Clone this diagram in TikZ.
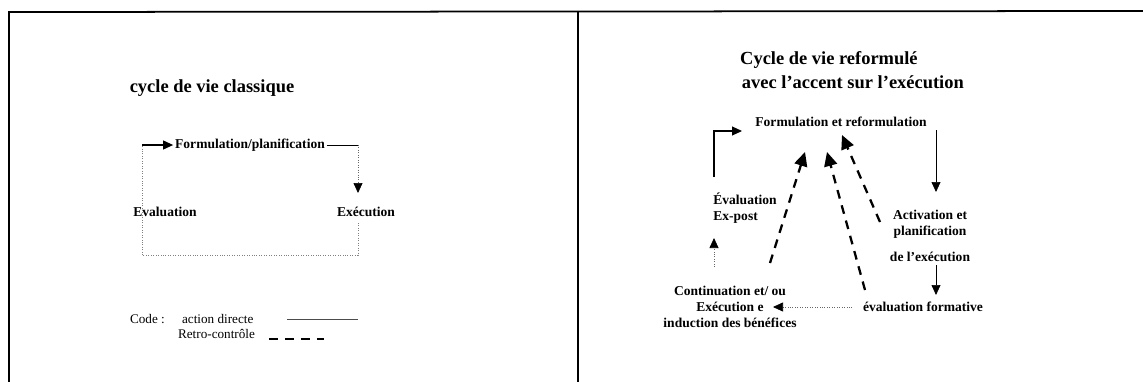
\documentclass[tikz,border=0pt]{standalone}
\usepackage{fontspec}
\setmainfont{Liberation Serif}
\usetikzlibrary{arrows.meta, positioning}

\begin{document}
\begin{tikzpicture}[
  x=0.02cm, y=-0.02cm,
  title/.style={font=\fontsize{10.5}{13.6}\selectfont\bfseries, inner sep=1pt},
  lbl/.style={font=\fontsize{7.7}{9.2}\selectfont\bfseries, inner sep=1pt},
  legend/.style={font=\fontsize{7.5}{9}\selectfont, inner sep=1pt},
  arrow/.style={-{Triangle[length=2mm, width=1.8mm]}, semithick},
  dotarrow/.style={-{Triangle[length=2mm, width=1.8mm, color=black]}, thin, densely dotted, black!60},
  retro/.style={-{Triangle[length=2.8mm, width=2.6mm]}, line width=1.3pt, dash pattern=on 5pt off 4pt},
  faint/.style={thin, densely dotted, black!50}
]
  \useasboundingbox (0,0) rectangle (1143,382);
  % frame
  \draw[line width=1pt] (9,382) -- (9,12) -- (1143,11);
  \draw[line width=1pt] (578,11) -- (578,382);

  % left panel: classic cycle
  \node[title] (ltitle) at (212,88) {cycle de vie classique};
  \node[lbl] (form) at (250,145) {Formulation/planification};
  \node[lbl] (eval) at (165,212) {Evaluation};
  \node[lbl] (exec) at (366,212) {Exécution};
  \coordinate (tl) at (142,145);
  \coordinate (bl) at (142,255);
  \coordinate (tr) at (358,145);
  \coordinate (ra) at (358,193);
  \coordinate (rb) at (358,223);

  \draw[faint] (bl) -- (tl);
  \draw[arrow] (tl) -- (form.west);
  \draw[thin] (form.east) -- (tr);
  \draw[dotarrow] (tr) -- (ra);
  \draw[faint] (rb) |- (bl);

  % legend
  \node[legend, anchor=west] (code) at (128,319) {Code :};
  \node[legend, anchor=west] (direct) at (180,319) {action directe};
  \node[legend, anchor=west] (retrolbl) at (176,334) {Retro-contrôle};
  \draw[thin, black!70] ([xshift=18pt]direct.east) -- ++(71,0);
  \draw[line width=1.3pt, dash pattern=on 5pt off 4pt] ([xshift=7pt, yshift=-3pt]retrolbl.east) -- ++(55,0);

  % right panel: reformulated cycle
  \node[title, align=left] (rtitle) at (852,70) {Cycle de vie reformulé\\\hspace*{1pt}avec l'accent sur l'exécution};
  \node[lbl] (rform) at (841,122) {Formulation et reformulation};
  \node[lbl, align=left] (expost) at (745,208) {Évaluation\\Ex-post};
  \node[lbl, align=center] (cont) at (730,307) {Continuation et/ ou\\Exécution e\\induction des bénéfices};
  \node[lbl] (efor) at (923,307) {évaluation formative};
  \node[lbl, align=center] (act) at (930,224) {Activation et\\planification};
  \node[lbl] (dexec) at (930,257) {de l'exécution};

  \coordinate (ebot) at (714,177);
  \coordinate (etip) at (742,131);
  \coordinate (atop) at (936,130);
  \coordinate (atip) at (936,192);
  \coordinate (ftop) at (936,265);
  \coordinate (ftip) at (936,295);
  \coordinate (ctip) at (773,307);
  \coordinate (ubot) at (714,267);
  \coordinate (utip) at (714,238);
  \coordinate (r1s) at (770,263);
  \coordinate (r1t) at (805,152);
  \coordinate (r2s) at (865,290);
  \coordinate (r2t) at (827,152);
  \coordinate (r3s) at (880,222);
  \coordinate (r3t) at (842,135);

  \draw[arrow] (ebot) |- (etip);
  \draw[arrow, thin] (atop) -- (atip);
  \draw[arrow, thin] (ftop) -- (ftip);
  \draw[dotarrow] ([xshift=-5pt]efor.west) -- (ctip);
  \draw[dotarrow] (ubot) -- (utip);
  \draw[retro] (r1s) -- (r1t);
  \draw[retro] (r2s) -- (r2t);
  \draw[retro] (r3s) -- (r3t);
\end{tikzpicture}
\end{document}
